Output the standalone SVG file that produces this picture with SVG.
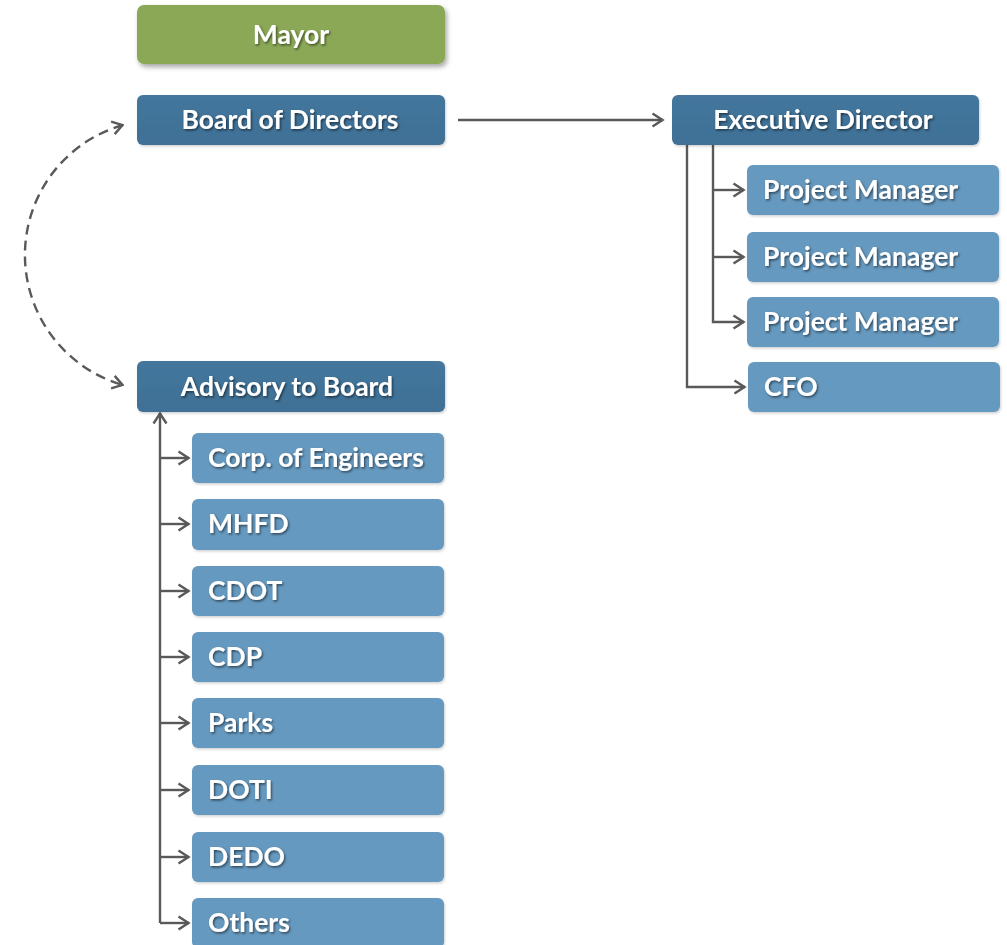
<svg xmlns="http://www.w3.org/2000/svg" width="1007" height="945" viewBox="0 0 1007 945">
<style>
.lbl{font-family:Lato,"Open Sans","Liberation Sans",sans-serif;font-weight:bold;font-size:26.5px;fill:#ffffff;filter:url(#ts)}
.c{text-anchor:middle}
.dark{fill:url(#gDark);filter:url(#bs)}
.light{fill:#6699bf;filter:url(#bs)}
.green{fill:#8aa856;filter:url(#bsG)}
.ln{fill:none;stroke:#595959;stroke-width:2.4}
.dash{fill:none;stroke:#595959;stroke-width:2.4;stroke-dasharray:10 6}
</style>
<defs>
<linearGradient id="gDark" x1="0" y1="0" x2="0" y2="1">
<stop offset="0" stop-color="#44769d"/>
<stop offset="1" stop-color="#3f7095"/>
</linearGradient>
<filter id="ts" x="-10%" y="-30%" width="120%" height="160%">
<feDropShadow dx="1.2" dy="1.5" stdDeviation="0.8" flood-color="#000" flood-opacity="0.55"/>
</filter>
<filter id="bs" x="-5%" y="-20%" width="110%" height="150%">
<feDropShadow dx="1" dy="1.5" stdDeviation="1" flood-color="#000" flood-opacity="0.18"/>
</filter>
<filter id="bsG" x="-5%" y="-20%" width="110%" height="160%">
<feDropShadow dx="2" dy="3" stdDeviation="2.5" flood-color="#000" flood-opacity="0.35"/>
</filter>
<marker id="ah" viewBox="0 0 14 16" refX="12.5" refY="8" markerWidth="14" markerHeight="16" markerUnits="userSpaceOnUse" orient="auto-start-reverse">
<path d="M2 1.5 L12 8 L2 14.5" fill="none" stroke="#595959" stroke-width="2.4"/>
</marker>
</defs>

<g id="connectors">
<path class="ln" d="M458 120 H663" marker-end="url(#ah)"/>
<path class="dash" d="M123 125 A135.2 135.2 0 0 0 123 385" marker-start="url(#ah)" marker-end="url(#ah)"/>
<path class="ln" d="M687 145 V387 H745" marker-end="url(#ah)"/>
<path class="ln" d="M713 145 V322 H744" marker-end="url(#ah)"/>
<path class="ln" d="M713 190 H744" marker-end="url(#ah)"/>
<path class="ln" d="M713 257 H744" marker-end="url(#ah)"/>
<path class="ln" d="M160 923 V413" marker-end="url(#ah)"/>
<path class="ln" d="M160 923 H189" marker-end="url(#ah)"/>
<path class="ln" d="M160 458 H189" marker-end="url(#ah)"/>
<path class="ln" d="M160 524 H189" marker-end="url(#ah)"/>
<path class="ln" d="M160 591 H189" marker-end="url(#ah)"/>
<path class="ln" d="M160 657 H189" marker-end="url(#ah)"/>
<path class="ln" d="M160 723 H189" marker-end="url(#ah)"/>
<path class="ln" d="M160 790 H189" marker-end="url(#ah)"/>
<path class="ln" d="M160 857 H189" marker-end="url(#ah)"/>
</g>

<g id="mayor"><rect class="green" x="137" y="5" width="308" height="59" rx="7"/><text class="lbl c" x="291" y="44">Mayor</text></g>
<g id="board"><rect class="dark" x="137" y="95" width="308" height="50" rx="6"/><text class="lbl c" x="290" y="129">Board of Directors</text></g>
<g id="exec"><rect class="dark" x="672" y="95" width="307" height="50" rx="6"/><text class="lbl c" x="823" y="129">Executive Director</text></g>
<g id="pm1"><rect class="light" x="747" y="165" width="252" height="50" rx="6"/><text class="lbl" x="763" y="199">Project Manager</text></g>
<g id="pm2"><rect class="light" x="747" y="232" width="252" height="50" rx="6"/><text class="lbl" x="763" y="266">Project Manager</text></g>
<g id="pm3"><rect class="light" x="747" y="297" width="252" height="50" rx="6"/><text class="lbl" x="763" y="331">Project Manager</text></g>
<g id="cfo"><rect class="light" x="748" y="362" width="252" height="50" rx="6"/><text class="lbl" x="764" y="396">CFO</text></g>
<g id="advisory"><rect class="dark" x="137" y="361" width="308" height="51" rx="6"/><text class="lbl c" x="287" y="396">Advisory to Board</text></g>
<g id="corp"><rect class="light" x="192" y="433" width="252" height="50" rx="6"/><text class="lbl" x="208" y="467">Corp. of Engineers</text></g>
<g id="mhfd"><rect class="light" x="192" y="499" width="252" height="51" rx="6"/><text class="lbl" x="208" y="533">MHFD</text></g>
<g id="cdot"><rect class="light" x="192" y="566" width="252" height="50" rx="6"/><text class="lbl" x="208" y="600">CDOT</text></g>
<g id="cdp"><rect class="light" x="192" y="632" width="252" height="50" rx="6"/><text class="lbl" x="208" y="666">CDP</text></g>
<g id="parks"><rect class="light" x="192" y="698" width="252" height="50" rx="6"/><text class="lbl" x="208" y="732">Parks</text></g>
<g id="doti"><rect class="light" x="192" y="765" width="252" height="50" rx="6"/><text class="lbl" x="208" y="799">DOTI</text></g>
<g id="dedo"><rect class="light" x="192" y="832" width="252" height="50" rx="6"/><text class="lbl" x="208" y="866">DEDO</text></g>
<g id="others"><rect class="light" x="192" y="898" width="252" height="50" rx="6"/><text class="lbl" x="208" y="932">Others</text></g>
</svg>
